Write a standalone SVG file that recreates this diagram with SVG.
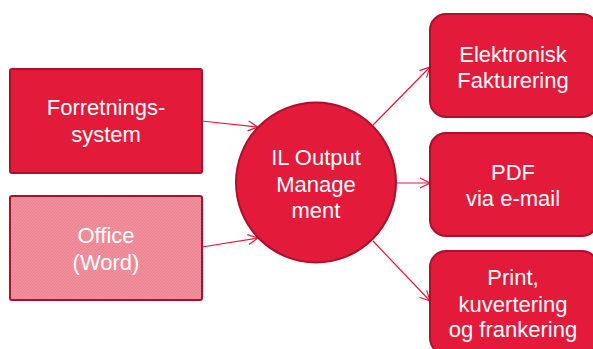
<svg xmlns="http://www.w3.org/2000/svg" width="593" height="349" viewBox="0 0 593 349">
<defs>
<style>
.box{fill:#e31a3a;stroke:#a8122c;stroke-width:2}
.light{fill:url(#hatch);stroke:#a8122c;stroke-width:2}
.t{font-family:"Liberation Sans",Arial,sans-serif;font-size:22px;fill:#ffffff;text-anchor:middle}
.c{stroke:#e31a3a;stroke-width:1.2;fill:none;marker-end:url(#arr)}
</style>
<pattern id="hatch" width="3" height="3" patternUnits="userSpaceOnUse">
<rect width="3" height="3" fill="#f0909d"/>
<path d="M0,3 L3,0" stroke="#e77586" stroke-width="0.6"/>
</pattern>
<marker id="arr" viewBox="0 0 12 12" refX="11" refY="6" markerWidth="12" markerHeight="12" markerUnits="userSpaceOnUse" orient="auto">
<path d="M1,1 L11,6 L1,11" fill="none" stroke="#e31a3a" stroke-width="1.2"/>
</marker>
</defs>
<rect width="593" height="349" fill="#ffffff"/>
<g id="connectors">
<line class="c" x1="202" y1="121" x2="258" y2="127"/>
<line class="c" x1="202" y1="247" x2="258" y2="238"/>
<line class="c" x1="373" y1="125" x2="430" y2="67"/>
<line class="c" x1="396" y1="183" x2="430" y2="183"/>
<line class="c" x1="373" y1="241" x2="430" y2="301"/>
</g>
<g id="forretningssystem">
<rect class="box" x="10" y="69" width="192" height="104" rx="2"/>
<text class="t" x="106" y="115">Forretnings-</text>
<text class="t" x="106" y="142">system</text>
</g>
<g id="office">
<rect class="light" x="10" y="196" width="192" height="104" rx="2"/>
<text class="t" x="106" y="243">Office</text>
<text class="t" x="106" y="270">(Word)</text>
</g>
<g id="il-output">
<circle class="box" cx="316" cy="182.5" r="80"/>
<text class="t" x="316" y="165">IL Output</text>
<text class="t" x="316" y="192">Manage</text>
<text class="t" x="316" y="218">ment</text>
</g>
<g id="elektronisk">
<rect class="box" x="430" y="14" width="168" height="103" rx="16"/>
<text class="t" x="513" y="62">Elektronisk</text>
<text class="t" x="513" y="88">Fakturering</text>
</g>
<g id="pdf">
<rect class="box" x="430" y="133" width="168" height="103" rx="16"/>
<text class="t" x="513" y="180">PDF</text>
<text class="t" x="513" y="206">via e-mail</text>
</g>
<g id="print">
<rect class="box" x="430" y="251" width="168" height="103" rx="16"/>
<text class="t" x="513" y="285">Print,</text>
<text class="t" x="513" y="312">kuvertering</text>
<text class="t" x="513" y="337">og frankering</text>
</g>
</svg>
